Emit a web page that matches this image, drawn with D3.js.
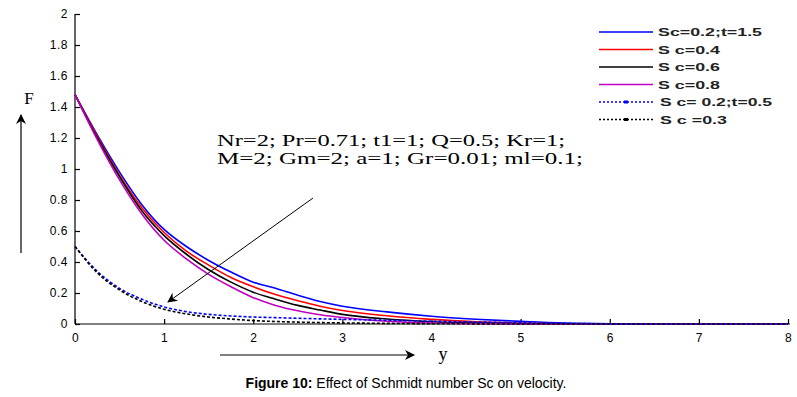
<!DOCTYPE html>
<html>
<head>
<meta charset="utf-8">
<script src="https://cdn.jsdelivr.net/npm/d3@7"></script>
<style>
  body { margin: 0; background: #fff; }
  svg { display: block; }
</style>
</head>
<body>
<div id="chart"></div>
<script>
// velocity profiles F(y) for several Schmidt numbers

const yPos = [0, 0.25, 0.5, 0.75, 1, 1.25, 1.5, 1.75, 2, 2.25, 2.5, 2.75, 3, 3.5, 4, 4.5, 5, 5.5, 6, 7, 8];

const sc02t15 = [1.48, 1.22, 0.98, 0.77, 0.61, 0.50, 0.41, 0.335, 0.27, 0.23, 0.185, 0.145, 0.115, 0.078, 0.05, 0.031, 0.017, 0.006, 0.002, 0, 0];
const sc04    = [1.48, 1.21, 0.96, 0.75, 0.59, 0.47, 0.38, 0.30, 0.24, 0.19, 0.15, 0.115, 0.087, 0.053, 0.03, 0.015, 0.006, 0.002, 0, 0, 0];
const sc06    = [1.48, 1.20, 0.95, 0.73, 0.57, 0.45, 0.35, 0.27, 0.205, 0.16, 0.12, 0.09, 0.062, 0.032, 0.015, 0.006, 0.002, 0, 0, 0, 0];
const sc08    = [1.48, 1.19, 0.93, 0.71, 0.54, 0.42, 0.32, 0.24, 0.17, 0.12, 0.085, 0.06, 0.042, 0.018, 0.006, 0.002, 0, 0, 0, 0, 0];
const sc02t05 = [0.5, 0.34, 0.23, 0.16, 0.11, 0.08, 0.062, 0.052, 0.045, 0.041, 0.037, 0.033, 0.03, 0.024, 0.018, 0.013, 0.008, 0.004, 0.001, 0, 0];
const sc03    = [0.5, 0.33, 0.22, 0.145, 0.095, 0.065, 0.045, 0.032, 0.022, 0.016, 0.012, 0.009, 0.007, 0.004, 0.002, 0.001, 0, 0, 0, 0, 0];

const seriesLabels = ["Sc=0.2;t=1.5", "S c=0.4", "S c=0.6", "S c=0.8", "S c= 0.2;t=0.5", "S c =0.3"];
const seriesValues = [sc02t15, sc04, sc06, sc08, sc02t05, sc03];

const xTicks = [0, 1, 2, 3, 4, 5, 6, 7, 8];
const yTicks = [0, 0.2, 0.4, 0.6, 0.8, 1, 1.2, 1.4, 1.6, 1.8, 2];

const paramLines = [
  "Nr=2; Pr=0.71; t1=1; Q=0.5; Kr=1;",
  "M=2;  Gm=2; a=1; Gr=0.01; ml=0.1;"
];

// styles
const colors = ["#0000ff", "#ff0000", "#000000", "#c000c0", "#0000ff", "#000000"];
const dashes = [null, null, null, null, "3,2", "3,2"];
const legendWidths = [104, 62, 62, 62, 112, 67];

const W = 797, H = 397;
const svg = d3.select("#chart").append("svg")
  .attr("width", W)
  .attr("height", H)
  .style("background", "#ffffff");

const x = d3.scaleLinear().domain([0, 8]).range([75, 788]);
const y = d3.scaleLinear().domain([0, 2]).range([324, 14]);

// axes (MATLAB look: ticks pointing inward, no box)
const xAxis = svg.append("g")
  .attr("transform", `translate(0,${y(0)})`)
  .call(d3.axisBottom(x).tickValues(xTicks).tickSize(-5).tickPadding(9).tickFormat(d3.format("d")));
xAxis.select(".domain").attr("d", `M${x(0)},0H${x(8) + 2}`);

const yAxis = svg.append("g")
  .attr("transform", `translate(${x(0)},0)`)
  .call(d3.axisLeft(y).tickValues(yTicks).tickSize(-5).tickPadding(7).tickFormat(d => d));
yAxis.select(".domain").attr("d", `M0,${y(2)}V${y(0)}`);

svg.selectAll(".tick text")
  .style("font-family", "Liberation Sans, Arial, sans-serif")
  .style("font-size", "12px")
  .style("letter-spacing", "0.5px")
  .attr("fill", "#000");
svg.selectAll(".domain, .tick line").attr("stroke", "#000").attr("stroke-width", 1.2);

// curves
const line = d3.line()
  .x((d, i) => x(yPos[i]))
  .y(d => y(d))
  .curve(d3.curveMonotoneX);

seriesValues.forEach((vals, k) => {
  svg.append("path")
    .datum(vals)
    .attr("d", line)
    .attr("fill", "none")
    .attr("stroke", colors[k])
    .attr("stroke-width", 1.6)
    .attr("stroke-dasharray", dashes[k]);
});

// legend
const legend = svg.append("g").attr("transform", "translate(599,32)");
seriesLabels.forEach((lab, k) => {
  const g = legend.append("g").attr("transform", `translate(0,${k * 17.5})`);
  g.append("line")
    .attr("x1", 0).attr("x2", 54)
    .attr("stroke", colors[k])
    .attr("stroke-width", 1.4)
    .attr("stroke-dasharray", dashes[k] ? "2,2" : null);
  if (dashes[k]) {
    g.append("rect")
      .attr("x", 25).attr("y", -1.5)
      .attr("width", 4).attr("height", 3)
      .attr("fill", colors[k]);
  }
  g.append("text")
    .attr("x", k >= 4 ? 61 : 59)
    .attr("y", 4)
    .attr("textLength", legendWidths[k])
    .attr("lengthAdjust", "spacingAndGlyphs")
    .style("font-family", "Liberation Sans, Arial, sans-serif")
    .style("font-size", "11.5px")
    .style("font-weight", "bold")
    .attr("fill", "#222")
    .text(lab);
});

// parameter note + arrow
const note = svg.append("g");
paramLines.forEach((t, i) => {
  note.append("text")
    .attr("x", 217)
    .attr("y", 146 + i * 18)
    .attr("textLength", i === 0 ? 348 : 366)
    .attr("lengthAdjust", "spacingAndGlyphs")
    .style("font-family", "Liberation Serif, Times New Roman, serif")
    .style("font-size", "16px")
    .attr("fill", "#000")
    .text(t);
});

const defs = svg.append("defs");
defs.append("marker")
  .attr("id", "head")
  .attr("viewBox", "0 0 10 10")
  .attr("refX", 9).attr("refY", 5)
  .attr("markerWidth", 11).attr("markerHeight", 10)
  .attr("markerUnits", "userSpaceOnUse")
  .attr("orient", "auto")
  .append("path")
  .attr("d", "M0,0L10,5L0,10L3,5Z")
  .attr("fill", "#000");

svg.append("line")
  .attr("x1", 313).attr("y1", 198)
  .attr("x2", 168).attr("y2", 302)
  .attr("stroke", "#000").attr("stroke-width", 1)
  .attr("marker-end", "url(#head)");

// axis titles with arrows
svg.append("line")
  .attr("x1", 21).attr("y1", 253)
  .attr("x2", 21).attr("y2", 115)
  .attr("stroke", "#000").attr("stroke-width", 1.2)
  .attr("marker-end", "url(#head)");
svg.append("text")
  .attr("x", 29).attr("y", 104)
  .attr("text-anchor", "middle")
  .style("font-family", "Liberation Serif, Times New Roman, serif")
  .style("font-size", "17px")
  .text("F");

svg.append("line")
  .attr("x1", 220).attr("y1", 355)
  .attr("x2", 414).attr("y2", 355)
  .attr("stroke", "#000").attr("stroke-width", 1.2)
  .attr("marker-end", "url(#head)");
svg.append("text")
  .attr("x", 443).attr("y", 360)
  .attr("text-anchor", "middle")
  .style("font-family", "Liberation Serif, Times New Roman, serif")
  .style("font-size", "18px")
  .text("y");

// caption
const cap = svg.append("text")
  .attr("x", 406).attr("y", 388)
  .attr("text-anchor", "middle")
  .style("font-family", "Liberation Sans, Arial, sans-serif")
  .style("font-size", "14px")
  .attr("fill", "#000");
cap.append("tspan").style("font-weight", "bold").text("Figure 10:");
cap.append("tspan").text(" Effect of Schmidt number Sc on velocity.");
</script>
</body>
</html>
